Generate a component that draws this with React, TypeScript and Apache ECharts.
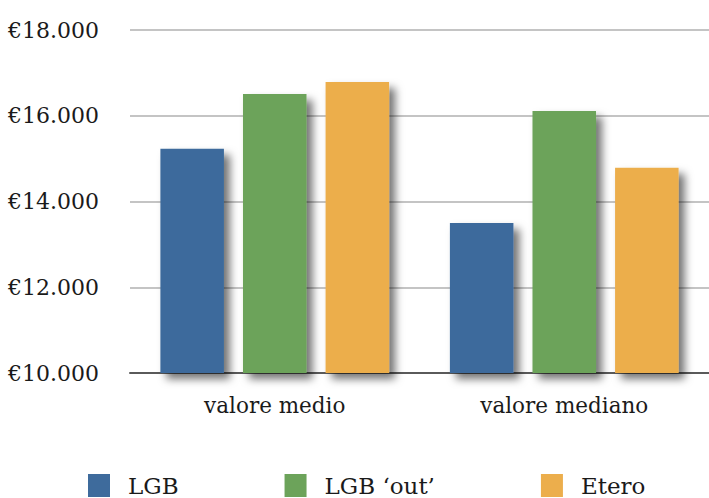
import React, { useEffect, useRef } from "react";
import * as echarts from "echarts";

const categories = ["valore medio", "valore mediano"];
const seriesNames = ["LGB", "LGB ‘out’", "Etero"];
const lgbValues = [15230, 13500];
const lgbOutValues = [16510, 16110];
const eteroValues = [16790, 14790];
const yTickValues = [10000, 12000, 14000, 16000, 18000];
const yTickLabels = ["€10.000", "€12.000", "€14.000", "€16.000", "€18.000"];
const colors = ["#3e6b9c", "#6ca35a", "#ecae4c"];

const FONT = "DejaVu Serif";

export default function App() {
  const ref = useRef<HTMLDivElement>(null);
  useEffect(() => {
    if (!ref.current) return;
    const chart = echarts.init(ref.current, null, { renderer: "svg" });
    const shadow = {
      shadowBlur: 8,
      shadowOffsetX: 6,
      shadowOffsetY: 6,
      shadowColor: "rgba(0,0,0,0.55)",
    };
    const values = [lgbValues, lgbOutValues, eteroValues];
    chart.setOption({
      animation: false,
      backgroundColor: "#ffffff",
      color: colors,
      grid: { left: 130, right: -21, top: 30, bottom: 125, containLabel: false },
      legend: {
        left: 83,
        top: 469,
        itemWidth: 22,
        itemHeight: 23,
        itemGap: 106,
        icon: "rect",
        data: seriesNames,
        textStyle: {
          fontFamily: FONT,
          fontSize: 23,
          color: "#1a1a1a",
          padding: [0, 0, 0, 13],
        },
      },
      xAxis: {
        type: "category",
        data: categories,
        axisLine: { show: true, lineStyle: { color: "#5a5a5a", width: 2 } },
        axisTick: { show: false },
        axisLabel: {
          margin: 21,
          fontFamily: FONT,
          fontSize: 21.5,
          color: "#1a1a1a",
        },
      },
      yAxis: {
        type: "value",
        min: yTickValues[0],
        max: yTickValues[yTickValues.length - 1],
        interval: 2000,
        axisLine: { show: false },
        axisTick: { show: false },
        splitLine: { lineStyle: { color: "#c4c4c4", width: 2 } },
        axisLabel: {
          margin: 31,
          fontFamily: FONT,
          fontSize: 22,
          color: "#1a1a1a",
          formatter: (v: number) => {
            const i = yTickValues.indexOf(v);
            return i >= 0 ? yTickLabels[i] : "";
          },
        },
      },
      series: seriesNames.map((name, i) => ({
        name,
        type: "bar",
        data: values[i],
        barGap: "30%",
        barCategoryGap: "21%",
        itemStyle: { color: colors[i], ...shadow },
      })),
    });
    return () => chart.dispose();
  }, []);
  return (
    <div
      ref={ref}
      style={{ position: "absolute", left: 0, top: 0, width: 709, height: 498 }}
    />
  );
}
